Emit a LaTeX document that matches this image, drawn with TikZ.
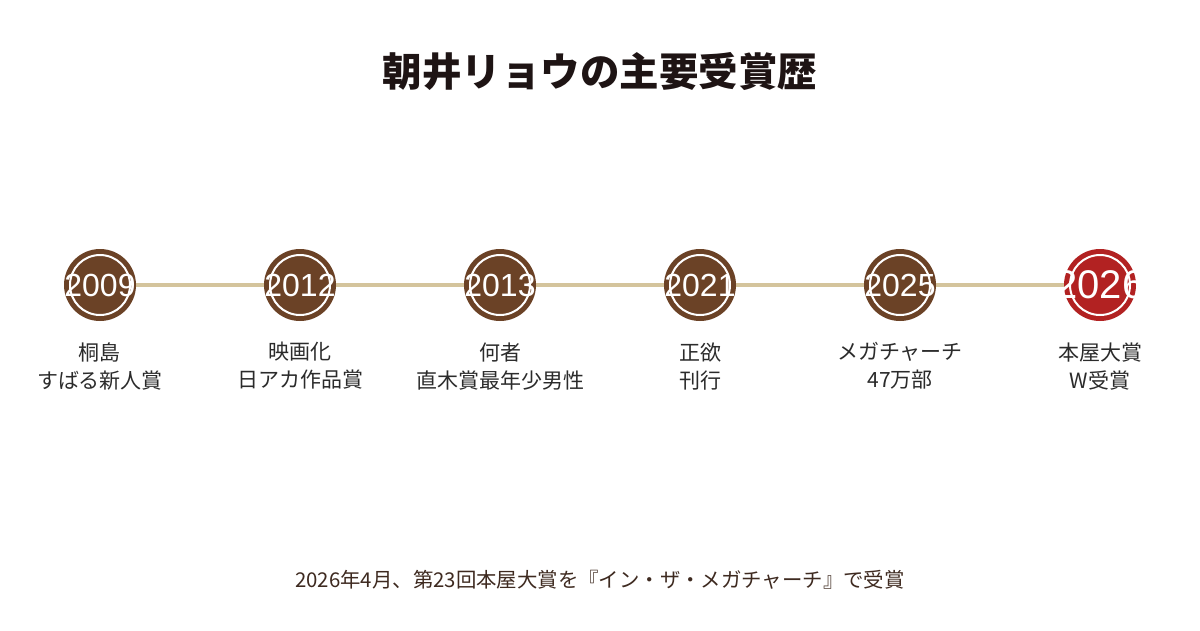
\documentclass[tikz,border=0pt]{standalone}
\usepackage{fontspec}
\setmainfont{Noto Sans CJK JP}
\newfontfamily\yearfont{Liberation Sans}
\usetikzlibrary{positioning, backgrounds}
\definecolor{yearbrown}{HTML}{6B4226}
\definecolor{yearred}{HTML}{B22222}
\definecolor{linetan}{HTML}{D4C49C}
\definecolor{titleink}{HTML}{1E1414}
\definecolor{labelink}{HTML}{2B2B2B}
\definecolor{noteink}{HTML}{3E2A20}

\begin{document}
\begin{tikzpicture}[
      x=1pt, y=-1pt,
      disc/.style  = {circle, fill=yearbrown, minimum size=72pt, inner sep=0pt,
                      path picture={\draw[white, line width=2pt]
                        (path picture bounding box.center) circle (30pt);}},
      yeartext/.style = {inner sep=0pt, text=white,
                      font=\yearfont\fontsize{32}{32}\selectfont},
      year/.style  = {disc, label={[yeartext]center:#1}},
      latest/.style= {disc, fill=yearred,
                      label={[yeartext, font=\yearfont\fontsize{40}{40}\selectfont]center:#1}},
      award/.style = {align=center, inner sep=0pt, text=labelink,
                      font=\fontsize{21}{28}\selectfont, below=21pt of #1},
      link/.style  = {linetan, line width=4pt},
    ]
    \begin{scope}[on background layer]
      \fill[white] (0,0) rectangle (1200,630);
    \end{scope}
    \useasboundingbox (0,0) rectangle (1200,630);

    \node[font=\fontsize{39.5}{39.5}\selectfont\bfseries, text=titleink] (title)
      at (600,72) {朝井リョウの主要受賞歴};

    % timeline
    \node[year=2009]   (y2009) at (100,285)  {};
    \node[year=2012]   (y2012) at (300,285)  {};
    \node[year=2013]   (y2013) at (500,285)  {};
    \node[year=2021]   (y2021) at (700,285)  {};
    \node[year=2025]   (y2025) at (900,285)  {};
    \node[latest=2026] (y2026) at (1100,285) {};

    \begin{scope}[on background layer]
      \draw[link] (y2009) -- (y2012);
      \draw[link] (y2012) -- (y2013);
      \draw[link] (y2013) -- (y2021);
      \draw[link] (y2021) -- (y2025);
      \draw[link] (y2025) -- (y2026);
    \end{scope}

    % awards below each year
    \node[award=y2009] (a2009) {桐島\\すばる新人賞};
    \node[award=y2012] (a2012) {映画化\\日アカ作品賞};
    \node[award=y2013] (a2013) {何者\\直木賞最年少男性};
    \node[award=y2021] (a2021) {正欲\\刊行};
    \node[award=y2025] (a2025) {メガチャーチ\\47万部};
    \node[award=y2026] (a2026) {本屋大賞\\W受賞};

    \node[font=\fontsize{20.4}{20.4}\selectfont, text=noteink] (note) at (600,580)
      {2026年4月、第23回本屋大賞を『イン・ザ・メガチャーチ』で受賞};

  \end{tikzpicture}
\end{document}
